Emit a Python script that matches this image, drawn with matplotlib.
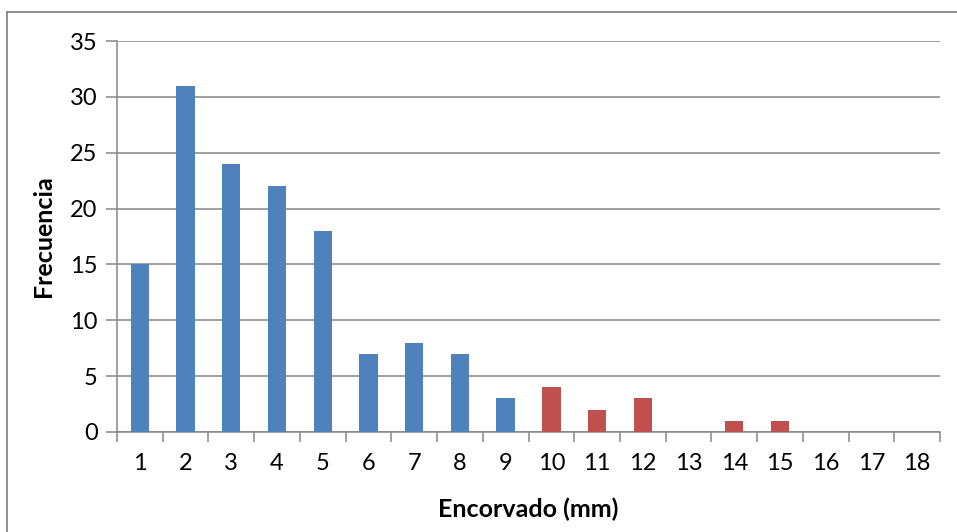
import matplotlib
matplotlib.use("Agg")
import matplotlib.pyplot as plt
import numpy as np
from matplotlib.lines import Line2D

categories = [str(i) for i in range(1, 19)]
values = [15, 31, 24, 22, 18, 7, 8, 7, 3, 4, 2, 3, 0, 1, 1, 0, 0, 0]
series_colors = ["#4F81BD"] * 9 + ["#C0504D"] * 9
y_ticks = [0, 5, 10, 15, 20, 25, 30, 35]

plt.rcParams['font.family'] = ['Lato', 'DejaVu Sans']

fig = plt.figure(figsize=(9.57, 5.32), dpi=100)
W, H = 957, 532
ax = fig.add_axes([117 / W, 1 - 432 / H, (940 - 117) / W, (432 - 41) / H])

x = np.arange(len(categories))
ax.bar(x, values, width=0.4, color=series_colors, zorder=3)

ax.set_xlim(-0.5, len(categories) - 0.5)
ax.set_ylim(0, 35)
ax.set_yticks(y_ticks)
ax.yaxis.grid(True, color="#868686", linewidth=1.1, zorder=0)
ax.set_xticks(np.arange(-0.5, len(categories), 1.0))
ax.set_xticklabels([])
ax.set_xticks(x, minor=True)
ax.set_xticklabels(categories, minor=True)
ax.tick_params(axis='x', which='major', length=7, width=1.1, color="#868686", direction='out')
ax.tick_params(axis='x', which='minor', length=0, pad=15, labelsize=17)
ax.tick_params(axis='y', length=8, width=1.1, color="#868686", labelsize=17, pad=6)

for s in ['top', 'right']:
    ax.spines[s].set_visible(False)
for s in ['left', 'bottom']:
    ax.spines[s].set_color("#868686")
    ax.spines[s].set_linewidth(1.1)

ax.set_xlabel("Encorvado (mm)", fontsize=18, fontweight='bold', labelpad=17)
ax.set_ylabel("Frecuencia", fontsize=18, fontweight='bold', labelpad=11)

# outer chart border
fig.add_artist(Line2D([7 / W, 7 / W], [0, 1 - 12 / H], transform=fig.transFigure, color="#868686", linewidth=1.3))
fig.add_artist(Line2D([7 / W, 1], [1 - 12 / H, 1 - 12 / H], transform=fig.transFigure, color="#868686", linewidth=1.3))

fig.savefig("out.png", dpi=100)
